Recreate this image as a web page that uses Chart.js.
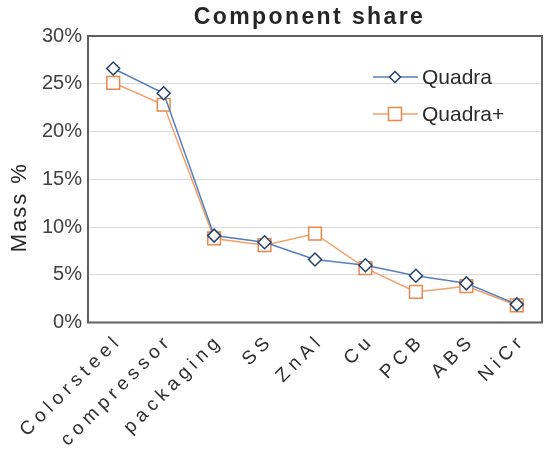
<!DOCTYPE html>
<html>
<head>
<meta charset="utf-8">
<script src="https://cdn.jsdelivr.net/npm/chart.js@4/dist/chart.umd.min.js"></script>
<style>
  html, body { margin: 0; padding: 0; background: #ffffff; }
  #wrap { width: 544px; height: 454px; }
</style>
</head>
<body>
<div id="wrap"><canvas id="c" width="544" height="454"></canvas></div>
<script>
const categories = ['Colorsteel', 'compressor', 'packaging', 'SS', 'ZnAl', 'Cu', 'PCB', 'ABS', 'NiCr'];
const quadra = [26.6, 24.0, 9.1, 8.4, 6.6, 6.0, 4.9, 4.1, 1.9];
const quadraPlus = [25.1, 22.8, 8.8, 8.1, 9.3, 5.7, 3.2, 3.8, 1.8];
const seriesNames = ['Quadra', 'Quadra+'];
const yTicks = [0, 5, 10, 15, 20, 25, 30];

const FONT = "'Liberation Sans', Arial, sans-serif";
const BLUE = '#5580bd';
const NAVY = '#25406c';
const ORANGE = '#f4a068';
const ORANGE_DK = '#e8884a';

function patch(obj, name, fn) {
  if (!obj || obj['__p_' + name]) return;
  const orig = obj[name];
  obj[name] = function (...a) {
    const c = this.ctx;
    c.save();
    fn(c);
    const r = orig.apply(this, a);
    c.restore();
    return r;
  };
  obj['__p_' + name] = true;
}

const stylePlugin = {
  id: 'stylePlugin',
  beforeDraw(chart) {
    patch(chart.titleBlock, 'draw', c => { c.letterSpacing = '2.4px'; c.translate(38.5, 0); });
    patch(chart.scales.x, 'drawLabels', c => { c.letterSpacing = '5px'; c.translate(6, 3); });
    patch(chart.scales.y, 'drawTitle', c => { c.letterSpacing = '2px'; c.translate(0, 28); });
  },
  beforeDatasetsDraw(chart) {
    const { ctx, chartArea: a } = chart;
    ctx.save();
    ctx.strokeStyle = '#5f5f5f';
    ctx.lineWidth = 2;
    ctx.strokeRect(a.left, a.top, a.right - a.left, a.bottom - a.top);
    ctx.restore();
  },
  afterDatasetsDraw(chart) {
    const ctx = chart.ctx;
    const rows = [
      { y: 77, name: seriesNames[0], line: BLUE, mark: 'diamond', stroke: NAVY },
      { y: 114, name: seriesNames[1], line: ORANGE, mark: 'square', stroke: ORANGE_DK }
    ];
    ctx.save();
    rows.forEach(r => {
      ctx.strokeStyle = r.line;
      ctx.lineWidth = 1.5;
      ctx.beginPath();
      ctx.moveTo(373, r.y);
      ctx.lineTo(418, r.y);
      ctx.stroke();
      ctx.fillStyle = '#ffffff';
      ctx.strokeStyle = r.stroke;
      ctx.beginPath();
      if (r.mark === 'diamond') {
        const s = 5.5;
        ctx.moveTo(395, r.y - s); ctx.lineTo(395 + s, r.y); ctx.lineTo(395, r.y + s); ctx.lineTo(395 - s, r.y); ctx.closePath();
      } else {
        const s = 6.5;
        ctx.rect(395 - s, r.y - s, 2 * s, 2 * s);
      }
      ctx.fill();
      ctx.stroke();
      ctx.fillStyle = '#2a2a2a';
      ctx.font = '21px ' + FONT;
      ctx.textBaseline = 'middle';
      ctx.textAlign = 'left';
      ctx.fillText(r.name, 422, r.y + 1);
    });
    ctx.restore();
  }
};

new Chart(document.getElementById('c'), {
  type: 'line',
  data: {
    labels: categories,
    datasets: [
      {
        label: seriesNames[0],
        data: quadra,
        borderColor: BLUE,
        borderWidth: 1.5,
        pointStyle: 'rectRot',
        pointRadius: 6.5,
        pointHoverRadius: 6.5,
        pointBorderWidth: 1.5,
        pointBorderColor: NAVY,
        pointBackgroundColor: '#ffffff',
        tension: 0,
        fill: false
      },
      {
        label: seriesNames[1],
        data: quadraPlus,
        borderColor: ORANGE,
        borderWidth: 1.5,
        pointStyle: 'rect',
        pointRadius: 9,
        pointHoverRadius: 9,
        pointBorderWidth: 1.5,
        pointBorderColor: ORANGE_DK,
        pointBackgroundColor: '#ffffff',
        tension: 0,
        fill: false
      }
    ]
  },
  options: {
    responsive: false,
    animation: false,
    devicePixelRatio: 1,
    layout: { autoPadding: false, padding: { left: 0, right: 2, top: 0, bottom: 0 } },
    plugins: {
      legend: { display: false },
      tooltip: { enabled: false },
      title: {
        display: true,
        text: 'Component share',
        color: '#262626',
        font: { family: FONT, size: 23, weight: 'bold' },
        padding: { top: 4, bottom: 4.4 }
      }
    },
    scales: {
      x: {
        offset: true,
        grid: { display: false, drawTicks: false },
        border: { display: false },
        ticks: {
          autoSkip: false,
          minRotation: 45,
          maxRotation: 45,
          padding: 4,
          color: '#2e2e2e',
          font: { family: FONT, size: 19 }
        },
        afterFit(scale) {
          scale.height = 131.5;
          scale.paddingRight = 0;
          scale.paddingLeft = 0;
        }
      },
      y: {
        min: 0,
        max: 30,
        afterBuildTicks(scale) { scale.ticks = yTicks.map(v => ({ value: v })); },
        grid: {
          drawTicks: false,
          lineWidth: 1,
          color: ctx => (ctx.tick && (ctx.tick.value === 0 || ctx.tick.value === 30)) ? 'rgba(0,0,0,0)' : '#d9d9d9'
        },
        border: { display: false },
        ticks: {
          padding: 6,
          color: '#404040',
          font: { family: FONT, size: 20 },
          callback: v => v + '%'
        },
        title: {
          display: true,
          text: 'Mass %',
          color: '#262626',
          font: { family: FONT, size: 22 },
          padding: { top: 7, bottom: 0 }
        },
        afterFit(scale) { scale.width = 88; }
      }
    }
  },
  plugins: [stylePlugin]
});
</script>
</body>
</html>
